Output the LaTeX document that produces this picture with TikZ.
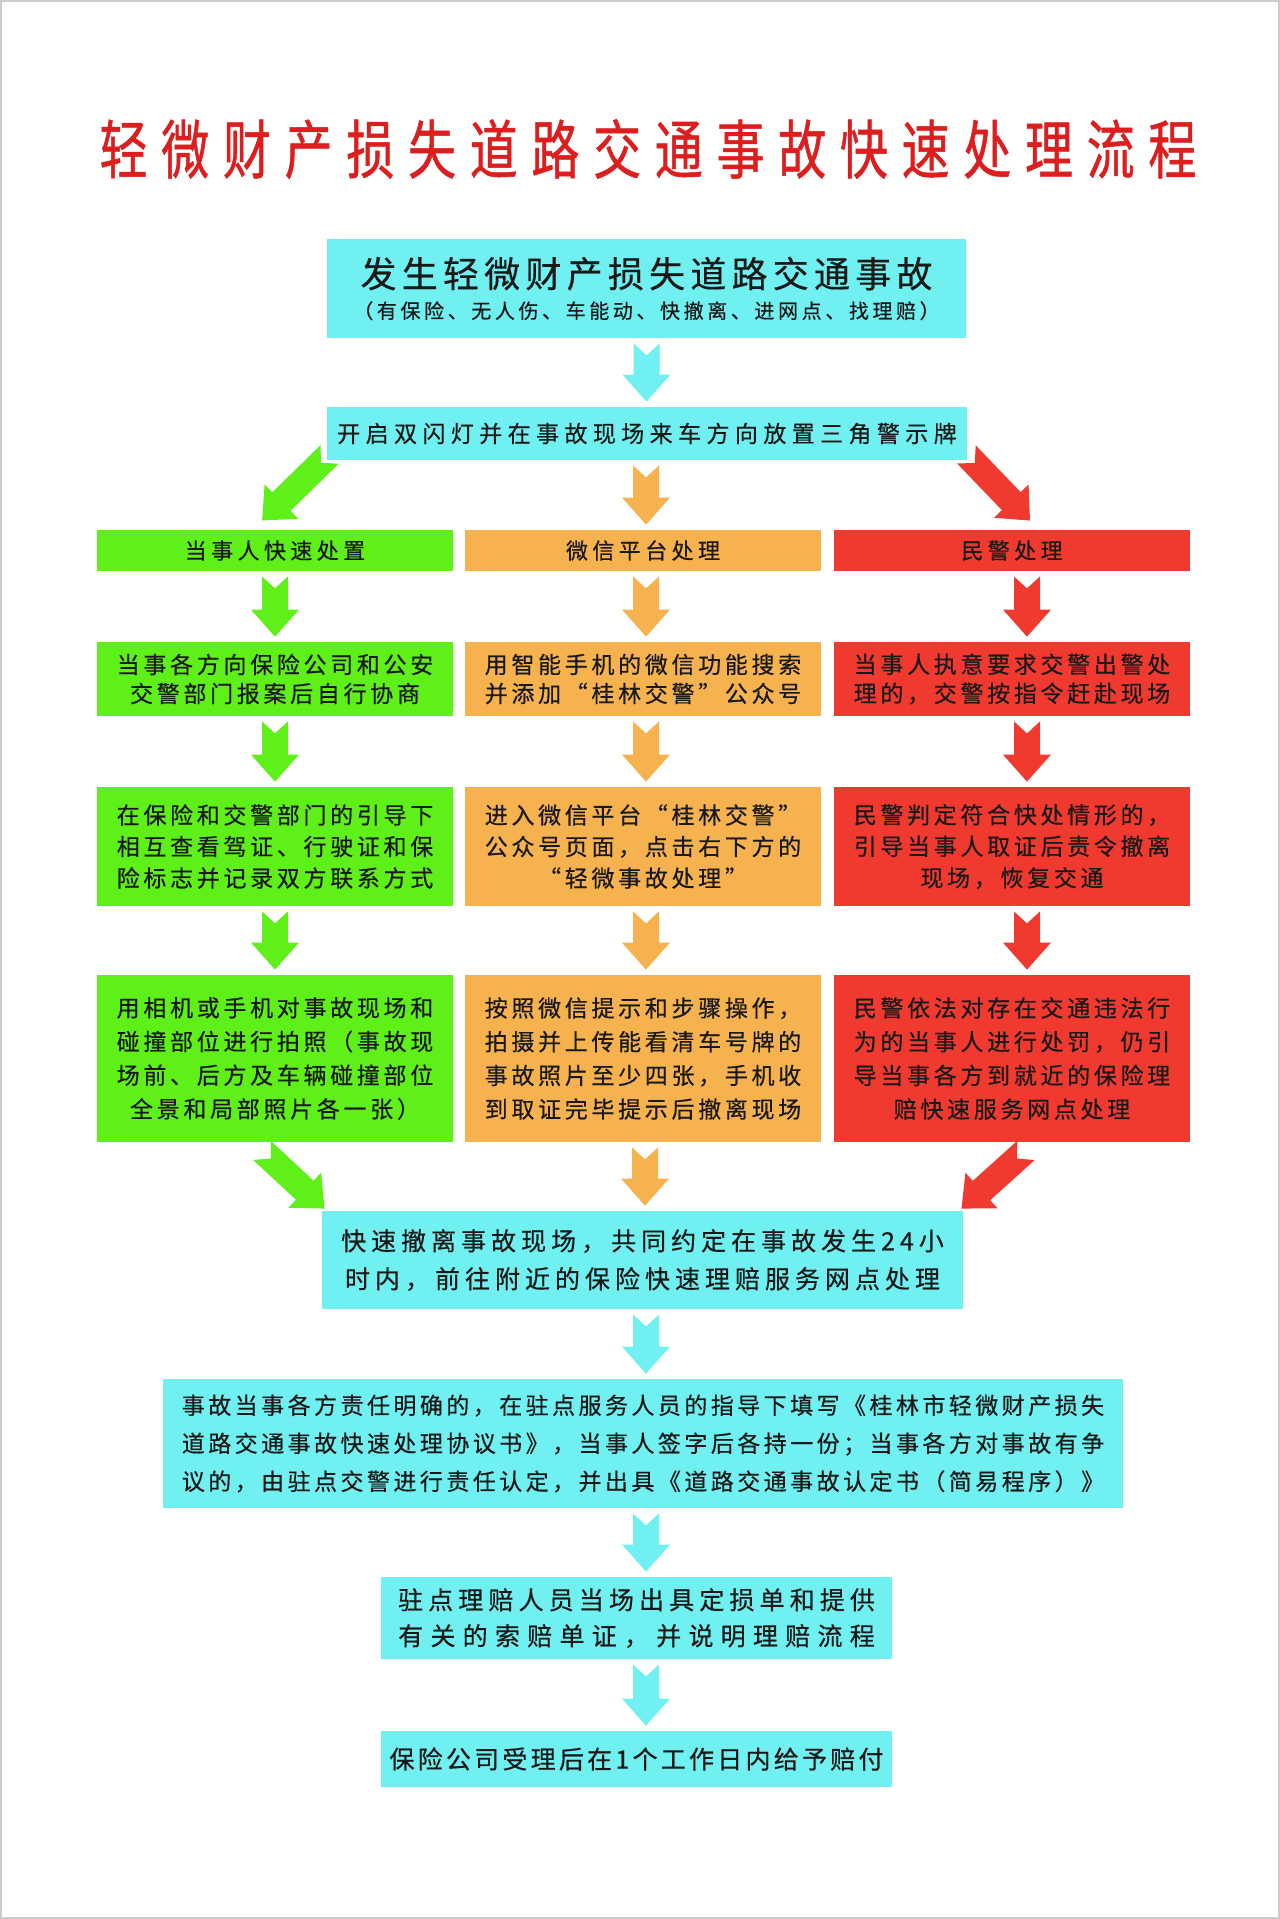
\documentclass[tikz,border=0pt]{standalone}
\usepackage{fontspec}
\newfontfamily\cjk[FakeBold=0.5]{Noto Sans CJK SC}
\newfontfamily\cjkt[FakeStretch=0.75,FakeBold=0.8]{Noto Sans CJK SC}
\usetikzlibrary{calc}
\definecolor{cy}{RGB}{112,240,240}
\definecolor{gr}{RGB}{95,240,25}
\definecolor{og}{RGB}{245,178,78}
\definecolor{rd}{RGB}{240,58,48}
\definecolor{ttl}{RGB}{220,30,30}
\definecolor{txt}{RGB}{25,25,25}
\pgfdeclarelayer{bg}
\pgfsetlayers{bg,main}
% size, baselineskip, gap between characters
\newcommand{\fsz}[3]{\fontsize{#1}{#2}\selectfont\def\curgap{#3}}
\def\curgap{0pt}
% letter-spaced line
\newcommand{\ls}[2]{\def\lsgap{#1}\lsA#2\relax\unskip}
\def\lsA#1{\ifx\relax#1\else#1\hskip\lsgap\relax\expandafter\lsA\fi}
\newcommand{\lsline}[1]{\ls{\curgap}{#1}}
% notched block arrow from #1 to #2, colour #3
\newcommand{\blockarrow}[3]{%
  \fill[#3] let \p1=#1, \p2=#2, \n1={atan2(\y2-\y1,\x2-\x1)}, \n2={veclen(\x2-\x1,\y2-\y1)} in
  {[shift={(\p1)}, rotate=\n1]
   (0pt,6.5pt) -- ({\n2-13.5pt},6.5pt) -- ({\n2-13.5pt},12pt) -- ({\n2},0pt) -- ({\n2-13.5pt},-12pt)
   -- ({\n2-13.5pt},-6.5pt) -- (0pt,-6.5pt) -- (6pt,0pt) -- cycle};
}
% vertical arrow from node #1 to node #2, colour #3, x offset #4
\newcommand{\varrow}[4]{%
  \coordinate (vs) at ($(#1.south)+(#4,5)$);
  \coordinate (ve) at ($(vs |- #2.north)+(0,-5)$);
  \blockarrow{(vs)}{(ve)}{#3}
}
\tikzset{
  box/.style={inner sep=0pt, align=center, text=txt},
  cbox/.style={box, fill=cy},
  gbox/.style={box, fill=gr, minimum width=178pt},
  obox/.style={box, fill=og, minimum width=178pt},
  rbox/.style={box, fill=rd, minimum width=178pt},
  hdr/.style={minimum height=20.5pt, font=\cjk\fsz{11}{14}{0.2em}},
  row2/.style={minimum height=37pt, font=\cjk\fsz{11.5}{14.5}{0.16em}},
  row3/.style={minimum height=59.5pt, font=\cjk\fsz{11.5}{15.75}{0.16em}},
  row4/.style={minimum height=83.5pt, font=\cjk\fsz{11.5}{16.85}{0.16em}},
}
\begin{document}
\begin{tikzpicture}[x=0.5pt,y=-0.5pt]
\useasboundingbox (0,0) rectangle (1280,1919);
\draw[gray!40, line width=1pt] (1,1) rectangle (1279,1918);

\node[inner sep=0pt, text=ttl, font=\cjkt\fsz{32}{34}{0.214em}] (title) at (648,149) {\lsline{轻微财产损失道路交通事故快速处理流程}};

\node[cbox, minimum width=319.5pt, minimum height=49.5pt, font=\cjk] (b1) at (646.5,288.5)
  {\fsz{18}{19}{0.145em}\lsline{发生轻微财产损失道路交通事故}\\[3.5pt]\fsz{10}{19}{0.18em}\lsline{（有保险、无人伤、车能动、快撤离、进网点、找理赔）}};
\node[cbox, minimum width=320pt, minimum height=26.5pt, font=\cjk\fsz{11.5}{14}{0.235em}] (b2) at (647,433.5)
  {\lsline{开启双闪灯并在事故现场来车方向放置三角警示牌}};

\node[gbox, hdr] (h1) at (275,550.5) {\lsline{当事人快速处置}};
\node[obox, hdr] (h2) at (643,550.5) {\lsline{微信平台处理}};
\node[rbox, hdr] (h3) at (1012,550.5) {\lsline{民警处理}};

\node[gbox, row2] (r2a) at (275,679) {\lsline{当事各方向保险公司和公安}\\\lsline{交警部门报案后自行协商}};
\node[obox, row2] (r2b) at (643,679) {\lsline{用智能手机的微信功能搜索}\\\lsline{并添加“桂林交警”公众号}};
\node[rbox, row2] (r2c) at (1012,679) {\lsline{当事人执意要求交警出警处}\\\lsline{理的，交警按指令赶赴现场}};

\node[gbox, row3] (r3a) at (275,846.5) {\lsline{在保险和交警部门的引导下}\\\lsline{相互查看驾证、行驶证和保}\\\lsline{险标志并记录双方联系方式}};
\node[obox, row3] (r3b) at (643,846.5) {\lsline{进入微信平台“桂林交警”}\\\lsline{公众号页面，点击右下方的}\\\lsline{“轻微事故处理”}};
\node[rbox, row3] (r3c) at (1012,846.5) {\lsline{民警判定符合快处情形的，}\\\lsline{引导当事人取证后责令撤离}\\\lsline{现场，恢复交通}};

\node[gbox, row4] (r4a) at (275,1058.5) {\lsline{用相机或手机对事故现场和}\\\lsline{碰撞部位进行拍照（事故现}\\\lsline{场前、后方及车辆碰撞部位}\\\lsline{全景和局部照片各一张）}};
\node[obox, row4] (r4b) at (643,1058.5) {\lsline{按照微信提示和步骤操作，}\\\lsline{拍摄并上传能看清车号牌的}\\\lsline{事故照片至少四张，手机收}\\\lsline{到取证完毕提示后撤离现场}};
\node[rbox, row4] (r4c) at (1012,1058.5) {\lsline{民警依法对存在交通违法行}\\\lsline{为的当事人进行处罚，仍引}\\\lsline{导当事各方到就近的保险理}\\\lsline{赔快速服务网点处理}};

\node[cbox, minimum width=320.5pt, minimum height=49pt, font=\cjk\fsz{12.5}{19}{0.2em}] (b5) at (642.5,1260)
  {\lsline{快速撤离事故现场，共同约定在事故发生24小}\\\lsline{时内，前往附近的保险快速理赔服务网点处理}};
\node[cbox, minimum width=480pt, minimum height=64.5pt, font=\cjk\fsz{11.5}{19}{0.15em}] (b6) at (643,1443.5)
  {\lsline{事故当事各方责任明确的，在驻点服务人员的指导下填写《桂林市轻微财产损失}\\\lsline{道路交通事故快速处理协议书》，当事人签字后各持一份；当事各方对事故有争}\\\lsline{议的，由驻点交警进行责任认定，并出具《道路交通事故认定书（简易程序）》}};
\node[cbox, minimum width=255.5pt, minimum height=41pt, font=\cjk\fsz{12.5}{18}{0.205em}] (b7) at (636.5,1618)
  {\lsline{驻点理赔人员当场出具定损单和提供}\\\ls{0.29em}{有关的索赔单证，并说明理赔流程}};
\node[cbox, minimum width=255.5pt, minimum height=28pt, font=\cjk\fsz{12.5}{15}{0.13em}] (b8) at (636.5,1759)
  {\lsline{保险公司受理后在1个工作日内给予赔付}};

\begin{pgfonlayer}{bg}
\varrow{b1}{b2}{cy}{0}
\blockarrow{($(b2.south west)+(3,-6)$)}{($(h1.north)+(-13,-9)$)}{gr}
\varrow{b2}{h2}{og}{-1}
\blockarrow{($(b2.south east)+(-1,-6)$)}{($(h3.north)+(18,-9)$)}{rd}
\varrow{h1}{r2a}{gr}{0}
\varrow{h2}{r2b}{og}{3}
\varrow{h3}{r2c}{rd}{15}
\varrow{r2a}{r3a}{gr}{0}
\varrow{r2b}{r3b}{og}{3}
\varrow{r2c}{r3c}{rd}{15}
\varrow{r3a}{r4a}{gr}{0}
\varrow{r3b}{r4b}{og}{3}
\varrow{r3c}{r4c}{rd}{15}
\blockarrow{($(r4a.south)+(-13,8)$)}{($(b5.north west)+(3,-2)$)}{gr}
\varrow{r4b}{b5}{og}{2}
\blockarrow{($(r4c.south)+(14,8)$)}{($(b5.north east)+(-2,-2)$)}{rd}
\varrow{b5}{b6}{cy}{3.5}
\varrow{b6}{b7}{cy}{3}
\varrow{b7}{b8}{cy}{9.5}
\end{pgfonlayer}
\end{tikzpicture}
\end{document}
